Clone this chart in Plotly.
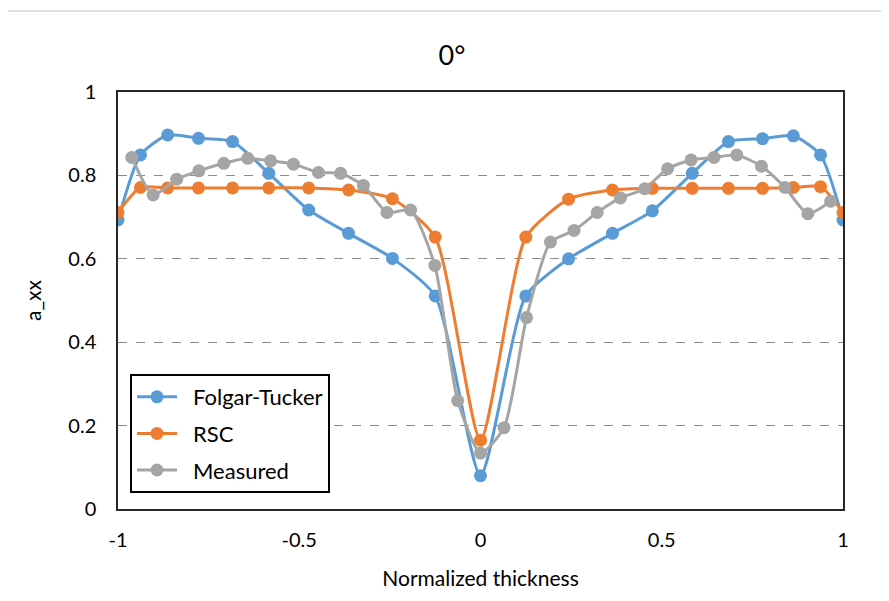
import plotly.graph_objects as go

# ---- data ----
x_model = [-1.0, -0.938, -0.863, -0.778, -0.684, -0.584, -0.474, -0.364, -0.243, -0.125, 0.0,
           0.125, 0.243, 0.364, 0.474, 0.584, 0.684, 0.778, 0.863, 0.938, 1.0]
folgar_tucker = [0.693, 0.849, 0.897, 0.889, 0.881, 0.805, 0.717, 0.661, 0.601, 0.511, 0.080,
                 0.511, 0.600, 0.661, 0.715, 0.805, 0.881, 0.888, 0.895, 0.849, 0.693]
rsc = [0.711, 0.771, 0.770, 0.770, 0.770, 0.770, 0.770, 0.765, 0.744, 0.652, 0.165,
       0.652, 0.743, 0.765, 0.769, 0.769, 0.769, 0.769, 0.771, 0.773, 0.711]

x_measured = [-0.962, -0.903, -0.838, -0.777, -0.708, -0.642, -0.579, -0.516, -0.447, -0.386,
              -0.323, -0.258, -0.193, -0.126, -0.063, 0.0, 0.065, 0.127, 0.193, 0.258,
              0.322, 0.386, 0.453, 0.516, 0.581, 0.644, 0.707, 0.775, 0.840, 0.903, 0.966]
measured = [0.843, 0.753, 0.791, 0.811, 0.829, 0.841, 0.835, 0.827, 0.807, 0.805,
            0.776, 0.711, 0.717, 0.584, 0.260, 0.134, 0.195, 0.459, 0.640, 0.668,
            0.711, 0.746, 0.768, 0.816, 0.837, 0.843, 0.849, 0.822, 0.771, 0.708, 0.738]

series_names = ["Folgar-Tucker", "RSC", "Measured"]

x_ticks = [-1, -0.5, 0, 0.5, 1]
x_tick_text = ["-1", "-0.5", "0", "0.5", "1"]
y_ticks = [0, 0.2, 0.4, 0.6, 0.8, 1]
y_tick_text = ["0", "0.2", "0.4", "0.6", "0.8", "1"]

FONT = "Lato, 'Open Sans', sans-serif"
BLUE = "#5B9BD5"
ORANGE = "#ED7D31"
GRAY = "#A5A5A5"

# page body has an 8px margin; size the figure so the plot area lands where the reference has it
W, H = 873, 585
L, R, T, B = 110, 38, 84, 84
PW, PH = W - L - R, H - T - B

fig = go.Figure()

def add(x, y, name, color, group):
    fig.add_trace(go.Scatter(
        x=x, y=y, name="\u2002" + name, mode="lines+markers",
        line=dict(color=color, width=3, shape="spline", smoothing=0.6),
        marker=dict(color=color, size=13),
        legendgroup=group,
    ))

add(x_model, folgar_tucker, series_names[0], BLUE, "a")
add(x_model, rsc, series_names[1], ORANGE, "b")
add(x_measured, measured, series_names[2], GRAY, "c")

fig.update_layout(
    width=W, height=H,
    margin=dict(l=L, r=R, t=T, b=B, autoexpand=False),
    paper_bgcolor="white", plot_bgcolor="white",
    font=dict(family=FONT, size=20, color="#404040"),
    title=dict(text="0°", x=444 / W, xanchor="center", y=1 - 48 / H, yanchor="middle",
               font=dict(family=FONT, size=27, color="#000000")),
    showlegend=True,
    legend=dict(
        x=12 / PW, xanchor="left", y=1 - (374 - 92) / PH, yanchor="top",
        bgcolor="white", bordercolor="#000000", borderwidth=2,
        font=dict(family=FONT, size=22, color="#000000"),
        traceorder="grouped", tracegroupgap=5,
        itemwidth=40,
    ),
    xaxis=dict(
        range=[-1, 1], tickvals=x_ticks, ticktext=x_tick_text,
        showgrid=False, zeroline=False, automargin=False,
        showline=True, linecolor="#262626", linewidth=1.5, mirror=True,
        ticks="", ticklabelstandoff=12,
        tickfont=dict(family=FONT, size=20, color="#000000"),
        title=dict(text="Normalized thickness", standoff=22,
                   font=dict(family=FONT, size=21, color="#000000")),
    ),
    yaxis=dict(
        range=[0, 1], tickvals=y_ticks, ticktext=y_tick_text,
        showgrid=True, gridcolor="#8c8c8c", griddash="dash", gridwidth=1,
        zeroline=False, automargin=False,
        showline=True, linecolor="#262626", linewidth=1.5, mirror=True,
        ticks="", ticklabelstandoff=16,
        tickfont=dict(family=FONT, size=20, color="#000000"),
        title=dict(text="a_xx", standoff=21,
                   font=dict(family=FONT, size=21, color="#000000")),
    ),
    shapes=[dict(
        type="line", xref="paper", yref="paper",
        x0=(-3 - L) / PW, x1=(W - L) / PW, y0=(501 - 3) / PH, y1=(501 - 3) / PH,
        line=dict(color="#d4d4d4", width=1.5),
    )],
)

fig.write_html("out.html")
